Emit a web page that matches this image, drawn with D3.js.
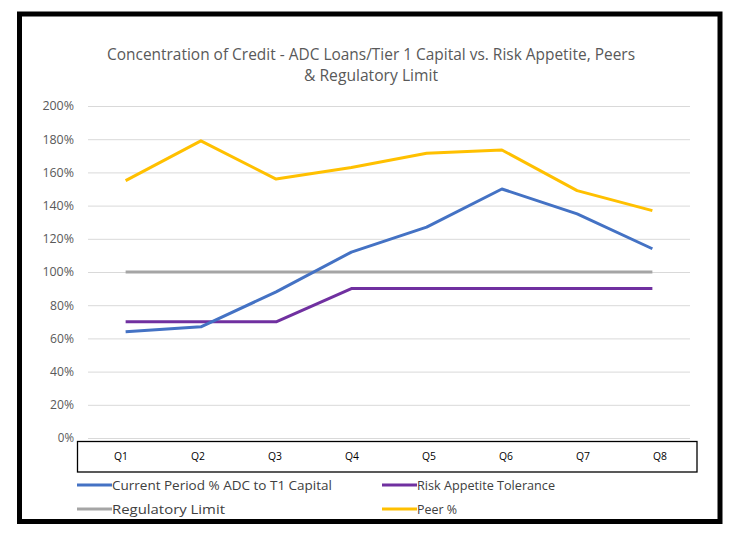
<!DOCTYPE html>
<html><head><meta charset="utf-8">
<script src="https://cdn.jsdelivr.net/npm/d3@7"></script>
<style>body{margin:0;background:#fff}svg{display:block}text{font-family:"Open Sans","Noto Sans",sans-serif}</style>
</head><body>
<script>
const categories = ["Q1","Q2","Q3","Q4","Q5","Q6","Q7","Q8"];
const currentADC = [64, 67, 88, 112, 127, 150, 135, 114];
const riskAppetite = [70, 70, 70, 90, 90, 90, 90, 90];
const regulatoryLimit = [100, 100, 100, 100, 100, 100, 100, 100];
const peer = [155, 179, 156, 163, 171.5, 173.5, 149, 137];
const yTicks = [0, 20, 40, 60, 80, 100, 120, 140, 160, 180, 200];
const seriesNames = ["Current Period % ADC to T1 Capital", "Risk Appetite Tolerance", "Regulatory Limit", "Peer %"];
const seriesColors = ["#4472C4", "#7030A0", "#A5A5A5", "#FFC000"];
const seriesData = [currentADC, riskAppetite, regulatoryLimit, peer];
const titleLines = ["Concentration of Credit - ADC Loans/Tier 1 Capital vs. Risk Appetite, Peers", "& Regulatory Limit"];

const W = 737, H = 537;
const svg = d3.select("body").append("svg").attr("width", W).attr("height", H);
svg.append("rect").attr("width", W).attr("height", H).attr("fill", "#fff");

// outer border
svg.append("rect").attr("x", 19.5).attr("y", 14).attr("width", 700.5).attr("height", 507.5)
  .attr("fill", "#fff").attr("stroke", "#000").attr("stroke-width", 5);

// title
const tW = [528, 134];
titleLines.forEach((t, i) => {
  svg.append("text").attr("x", 371).attr("y", 60 + i * 21).attr("text-anchor", "middle")
    .attr("font-size", 15.5).attr("fill", "#595959")
    .attr("textLength", tW[i]).attr("lengthAdjust", "spacingAndGlyphs").text(t);
});

const x = d3.scaleBand().domain(categories).range([88, 690]);
const y = d3.scaleLinear().domain([0, 200]).range([438, 106]);

// gridlines + y labels via axis
const yAxis = d3.axisLeft(y).tickValues(yTicks).tickSize(-(690 - 88)).tickPadding(14)
  .tickFormat(d => d + "%");
const gy = svg.append("g").attr("transform", "translate(88,0)").call(yAxis);
gy.select(".domain").remove();
gy.selectAll(".tick line").attr("stroke", "#D9D9D9").attr("stroke-width", 1);
gy.selectAll(".tick text").attr("fill", "#595959").attr("font-size", 12).attr("font-family", "'Open Sans',sans-serif")
  .attr("textLength", 31).attr("lengthAdjust", "spacingAndGlyphs")
  .each(function(d){ d3.select(this).attr("textLength", String(d).length*7.7 + 8.5); });

// category box
svg.append("rect").attr("x", 77.5).attr("y", 441.5).attr("width", 619.5).attr("height", 30.5)
  .attr("fill", "none").attr("stroke", "#000").attr("stroke-width", 1.3);
const xl = d3.scalePoint().domain(categories).range([121, 660]);
svg.append("g").selectAll("text").data(categories).join("text")
  .attr("x", d => xl(d)).attr("y", 460).attr("text-anchor", "middle")
  .attr("font-size", 11).attr("fill", "#000").attr("textLength", 14).attr("lengthAdjust", "spacingAndGlyphs").text(d => d);

// lines
const line = d3.line().x((d, i) => x(categories[i]) + x.bandwidth() / 2).y(d => y(d));
const order = [2, 1, 0, 3];
order.forEach(k => {
  svg.append("path").datum(seriesData[k]).attr("d", line)
    .attr("fill", "none").attr("stroke", seriesColors[k]).attr("stroke-width", 3)
    .attr("stroke-linejoin", "round");
});

// legend
const legPos = [[77, 485], [382, 485], [77, 509], [382, 509]];
const legW = [220, 138, 113, 40];
seriesNames.forEach((n, k) => {
  const [lx, ly] = legPos[k];
  svg.append("line").attr("x1", lx).attr("x2", lx + 35).attr("y1", ly).attr("y2", ly)
    .attr("stroke", seriesColors[k]).attr("stroke-width", 3);
  svg.append("text").attr("x", lx + 35).attr("y", ly + 4.5).attr("font-size", 13).attr("fill", "#404040")
    .attr("textLength", legW[k]).attr("lengthAdjust", "spacingAndGlyphs").text(n);
});
</script>
</body></html>
